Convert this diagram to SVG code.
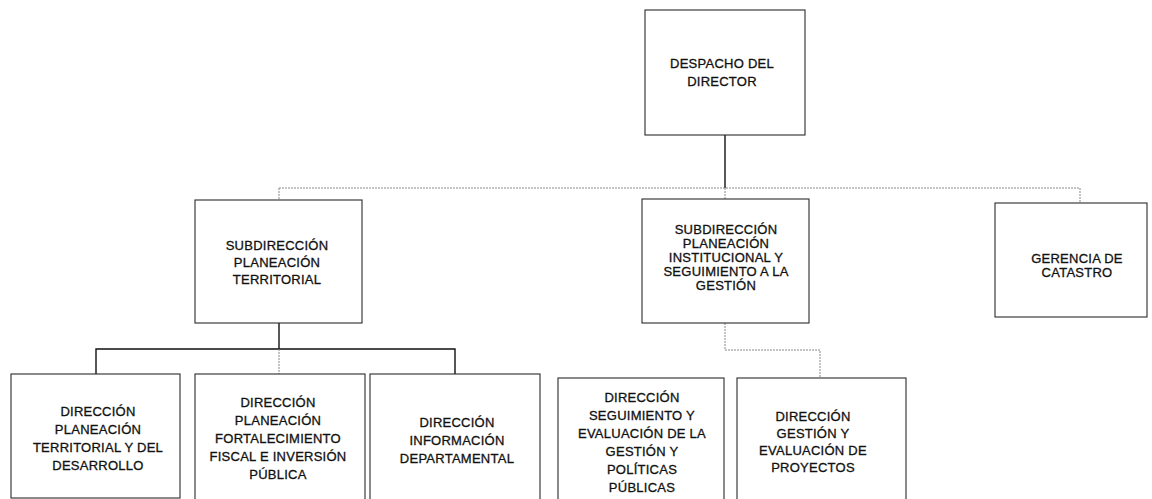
<svg xmlns="http://www.w3.org/2000/svg" width="1152" height="499" viewBox="0 0 1152 499">
<style>
.box{fill:#fff;stroke:#2a2a2a;stroke-width:1.1}
.t{font-family:"Liberation Sans",Arial,sans-serif;font-size:13px;fill:#111;stroke:#111;stroke-width:0.3;text-anchor:middle;letter-spacing:0.25px}
.solid{stroke:#111;stroke-width:1.4;fill:none}
.dot{stroke:#888;stroke-width:1;stroke-dasharray:2 1;fill:none}
</style>
<rect width="1152" height="499" fill="#fff"/>
<g id="connectors">
<line class="solid" x1="725" y1="135" x2="725" y2="188"/>
<line class="dot" x1="279" y1="188" x2="1080" y2="188"/>
<line class="dot" x1="279" y1="188" x2="279" y2="200"/>
<line class="dot" x1="725" y1="188" x2="725" y2="199"/>
<line class="dot" x1="1080" y1="188" x2="1080" y2="203"/>
<line class="solid" x1="279" y1="323" x2="279" y2="349"/>
<polyline class="solid" points="96,374 96,349 455,349 455,374"/>
<line class="dot" x1="279" y1="349" x2="279" y2="374"/>
<polyline class="dot" points="725,323 725,350 820,350 820,378"/>
</g>
<g id="despacho">
<rect class="box" x="645" y="10" width="160" height="125"/>
<text class="t" x="722" y="68">DESPACHO DEL</text>
<text class="t" x="722" y="86">DIRECTOR</text>
</g>
<g id="sub-territorial">
<rect class="box" x="195" y="200" width="167" height="123"/>
<text class="t" x="277" y="250">SUBDIRECCIÓN</text>
<text class="t" x="277" y="267">PLANEACIÓN</text>
<text class="t" x="277" y="284">TERRITORIAL</text>
</g>
<g id="sub-institucional">
<rect class="box" x="642" y="199" width="167" height="124"/>
<text class="t" x="726" y="234">SUBDIRECCIÓN</text>
<text class="t" x="726" y="248">PLANEACIÓN</text>
<text class="t" x="726" y="262">INSTITUCIONAL Y</text>
<text class="t" x="726" y="276">SEGUIMIENTO A LA</text>
<text class="t" x="726" y="290">GESTIÓN</text>
</g>
<g id="gerencia">
<rect class="box" x="995" y="203" width="152" height="114"/>
<text class="t" x="1077" y="263">GERENCIA DE</text>
<text class="t" x="1077" y="277">CATASTRO</text>
</g>
<g id="dir-territorial">
<rect class="box" x="11" y="374" width="169" height="124"/>
<text class="t" x="98" y="416">DIRECCIÓN</text>
<text class="t" x="98" y="434">PLANEACIÓN</text>
<text class="t" x="98" y="452">TERRITORIAL Y DEL</text>
<text class="t" x="98" y="470">DESARROLLO</text>
</g>
<g id="dir-fiscal">
<rect class="box" x="195" y="374" width="170" height="130"/>
<text class="t" x="278" y="407">DIRECCIÓN</text>
<text class="t" x="278" y="425">PLANEACIÓN</text>
<text class="t" x="278" y="443">FORTALECIMIENTO</text>
<text class="t" x="278" y="461">FISCAL E INVERSIÓN</text>
<text class="t" x="278" y="479">PÚBLICA</text>
</g>
<g id="dir-informacion">
<rect class="box" x="370" y="374" width="170" height="130"/>
<text class="t" x="457" y="427">DIRECCIÓN</text>
<text class="t" x="457" y="445">INFORMACIÓN</text>
<text class="t" x="457" y="463">DEPARTAMENTAL</text>
</g>
<g id="dir-seguimiento">
<rect class="box" x="558" y="378" width="166" height="126"/>
<text class="t" x="642" y="402">DIRECCIÓN</text>
<text class="t" x="642" y="420">SEGUIMIENTO Y</text>
<text class="t" x="642" y="438">EVALUACIÓN DE LA</text>
<text class="t" x="642" y="456">GESTIÓN Y</text>
<text class="t" x="642" y="474">POLÍTICAS</text>
<text class="t" x="642" y="492">PÚBLICAS</text>
</g>
<g id="dir-proyectos">
<rect class="box" x="737" y="378" width="169" height="126"/>
<text class="t" x="813" y="421">DIRECCIÓN</text>
<text class="t" x="813" y="438">GESTIÓN Y</text>
<text class="t" x="813" y="455">EVALUACIÓN DE</text>
<text class="t" x="813" y="472">PROYECTOS</text>
</g>
</svg>
